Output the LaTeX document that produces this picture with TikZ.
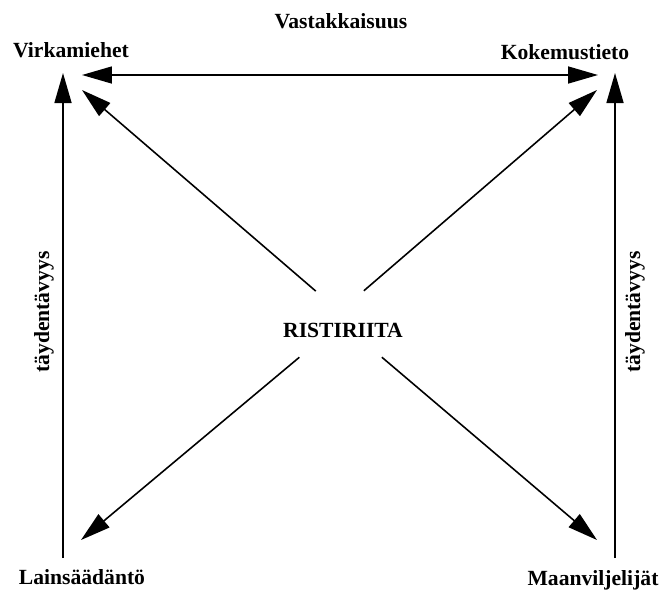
\documentclass[tikz,border=0pt]{standalone}
\usepackage{fontspec}
\setmainfont{Liberation Serif}
\usetikzlibrary{arrows.meta}

\begin{document}
\begin{tikzpicture}[x=0.02cm, y=-0.02cm,
    every node/.style={font=\bfseries\fontsize{12.3}{14}\selectfont},
    tip/.style={Triangle[length=6mm, width=3.4mm]},
    arr/.style={line width=0.9pt, -{Triangle[length=6mm, width=3.4mm]}}]
        \useasboundingbox (0,0) rectangle (661,589);
        \node (Virk) at (71,50) {Virkamiehet};
        \node (Koke) at (565,52) {Kokemustieto};
        \node (Lain) at (82,577) {Lainsäädäntö};
        \node (Maan) at (593,580) {Maanviljelijät};
        \node (Vast) at (341,21) {Vastakkaisuus};
        \node (Rist) at (343,330) {RISTIRIITA};
        \node [rotate=90] (TaydL) at (44,312) {täydentävyys};
        \node [rotate=90] (TaydR) at (635,312) {täydentävyys};

        % arrow ends at the corners
        \coordinate (VirkH) at (82,75);
        \coordinate (KokeH) at (598,75);
        \coordinate (VirkV) at (63,73);
        \coordinate (LainV) at (63,558);
        \coordinate (KokeV) at (615,73);
        \coordinate (MaanV) at (615,558);
        \coordinate (VirkD) at (82,90);
        \coordinate (KokeD) at (597,90);
        \coordinate (LainD) at (81,540);
        \coordinate (MaanD) at (597,540);

        \draw [arr, {Triangle[length=6mm, width=3.4mm]}-{Triangle[length=6mm, width=3.4mm]}] (VirkH) -- (KokeH);
        \draw [arr] (LainV) -- (VirkV);
        \draw [arr] (MaanV) -- (KokeV);

        \draw [arr] ([shift={(125:0.95cm)}]Rist.center) -- (VirkD);
        \draw [arr] ([shift={(62:0.89cm)}]Rist.center) -- (KokeD);
        \draw [arr] ([shift={(212:1.03cm)}]Rist.center) -- (LainD);
        \draw [arr] ([shift={(-35:0.95cm)}]Rist.center) -- (MaanD);
    \end{tikzpicture}
\end{document}
